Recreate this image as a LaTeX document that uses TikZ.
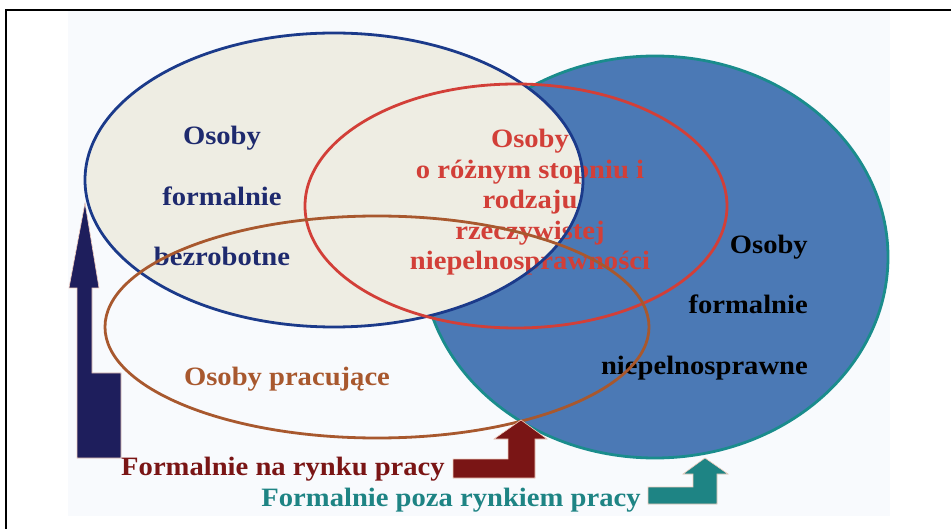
\documentclass[tikz,border=0pt]{standalone}
\usepackage{fontspec}
\setmainfont{Liberation Serif}[FakeStretch=1.08]
\usetikzlibrary{calc, positioning}

\definecolor{beige}{HTML}{EEEDE3}
\definecolor{navyline}{HTML}{1B3A8A}
\definecolor{navytext}{HTML}{1E2A6E}
\definecolor{navyarrow}{HTML}{1E1E5C}
\definecolor{steel}{HTML}{4B79B5}
\definecolor{tealline}{HTML}{1A8C8C}
\definecolor{redline}{HTML}{D23F38}
\definecolor{brownline}{HTML}{A8582E}
\definecolor{darkred}{HTML}{7A1515}
\definecolor{tealtext}{HTML}{1E8484}
\definecolor{paper}{HTML}{F8FAFD}
\definecolor{rim}{HTML}{F2CDBE}

\begin{document}
\begin{tikzpicture}[x=1pt, y=-1pt,
  ring/.style={line width=2.8pt},
  lbl/.style={font=\bfseries\fontsize{26.5}{30.5}\selectfont, inner sep=0pt, align=center},
  widelbl/.style={font=\bfseries\fontsize{26.5}{60.5}\selectfont, inner sep=0pt},
  bent/.style={draw=rim, line width=0.6pt}]
\useasboundingbox (0,0) rectangle (951,529);

\coordinate (Bcenter) at (334,180);
\coordinate (Rcenter) at (516,206);
\coordinate (Pcenter) at (377,327);
\coordinate (Ncenter) at (655,257);

% background and frame
\fill[white] (0,0) rectangle (951,529);
\fill[paper] (68,10) rectangle (890,516);
\draw[line width=1.6pt, black] (6,529) -- (6,10) -- (951,10);

% the four sets
\draw[ring, tealline, fill=steel] (Ncenter) ellipse [x radius=233, y radius=201];
\fill[beige] (Bcenter) ellipse [x radius=249, y radius=147];

% base = baseline of the last line
\node[lbl, widelbl, navytext, anchor=base] (bezrob) at (222,266)
  {Osoby\\formalnie\\bezrobotne};
\node[lbl, redline, anchor=base] (rzecz) at (530,270)
  {Osoby\\o różnym stopniu i\\rodzaju\\rzeczywistej\\niepelnosprawności};
\node[lbl, widelbl, black, align=right, anchor=base east] (niepeln) at (808,374)
  {Osoby\\formalnie\\niepelnosprawne};
\node[lbl, brownline, anchor=base] (pracuj) at (287,386) {Osoby pracujące};

\draw[ring, navyline] (Bcenter) ellipse [x radius=249, y radius=147];
\draw[ring, redline] (Rcenter) ellipse [x radius=211, y radius=122];
\draw[ring, brownline] (Pcenter) ellipse [x radius=272, y radius=111];

% bent arrows
\filldraw[bent, fill=navyarrow] (77,458) -- (121,458) -- (121,373) -- (92,373)
  -- (92,288) -- (99,288) -- (85,203) -- (69,288) -- (77,288) -- cycle;
\filldraw[bent, fill=darkred] (453,459) -- (508,459) -- (508,439) -- (494,439)
  -- (521,420) -- (547,439) -- (535,439) -- (535,478) -- (453,478) -- cycle;
\filldraw[bent, fill=tealtext] (648,487) -- (693,487) -- (693,474) -- (683,474)
  -- (705,458) -- (728,474) -- (717,474) -- (717,504) -- (648,504) -- cycle;

\node[lbl, darkred, anchor=base] (narynku) at (283,475) {Formalnie na rynku pracy};
\node[lbl, tealtext, anchor=base] (pozarynkiem) at (451,506) {Formalnie poza rynkiem pracy};
\end{tikzpicture}
\end{document}
